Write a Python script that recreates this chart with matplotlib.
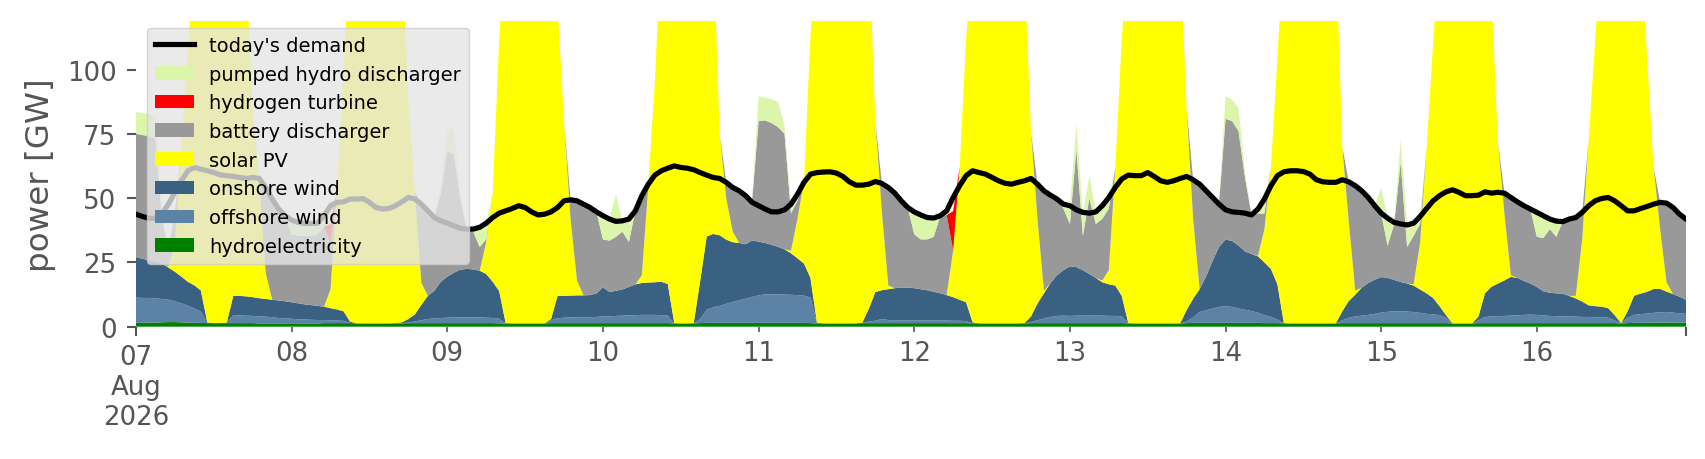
import pandas as pd
import matplotlib
matplotlib.use("Agg")
import matplotlib.pyplot as plt
import matplotlib.dates as mdates
from matplotlib.patches import Patch
from matplotlib.lines import Line2D

# hourly values in GW, 07 Aug 2026 00:00 .. 16 Aug 2026 23:00, one row per day
demand = [
    43.8, 42.9, 42.2, 42.2, 43.8, 47.7, 52.3, 56.8, 60.7, 62.0, 61.3, 60.7, 60.0, 59.1, 58.8, 58.5, 58.1, 57.7, 58.1, 57.7, 54.2, 49.7, 45.8, 43.2,
    41.5, 40.6, 40.2, 40.2, 40.3, 43.2, 47.1, 48.4, 48.6, 49.7, 49.7, 49.9, 48.4, 46.4, 45.8, 46.0, 47.1, 48.6, 50.3, 49.7, 47.7, 45.1, 42.5, 41.2,
    40.3, 39.3, 38.3, 38.0, 38.0, 38.7, 40.3, 42.5, 44.2, 45.1, 46.0, 47.1, 46.4, 44.7, 43.5, 43.8, 44.7, 46.4, 49.0, 49.4, 49.0, 47.7, 46.4, 44.7,
    43.2, 41.9, 41.0, 41.2, 41.9, 45.1, 51.0, 55.5, 59.0, 60.7, 61.7, 62.6, 62.0, 61.7, 61.1, 60.0, 59.0, 58.1, 57.7, 56.2, 54.2, 52.9, 51.0, 48.4,
    47.1, 45.8, 44.7, 44.7, 45.5, 47.7, 51.6, 56.2, 59.4, 60.0, 60.2, 60.3, 59.8, 58.5, 56.4, 55.1, 55.1, 55.5, 56.5, 55.8, 54.2, 52.0, 49.0, 46.4,
    44.7, 43.5, 42.5, 42.3, 43.2, 45.1, 50.3, 54.9, 58.8, 60.7, 60.0, 59.4, 58.1, 56.8, 55.8, 55.5, 56.2, 56.8, 57.7, 55.5, 52.9, 51.2, 49.7, 47.7,
    47.1, 45.5, 44.5, 44.2, 44.7, 47.1, 50.3, 54.2, 57.5, 59.0, 58.8, 58.8, 60.0, 58.5, 56.8, 56.2, 56.8, 57.7, 58.5, 57.2, 55.5, 52.9, 50.3, 47.7,
    45.5, 44.7, 44.5, 44.2, 43.5, 45.8, 49.7, 54.9, 58.8, 60.3, 60.7, 60.7, 60.4, 59.4, 57.2, 56.4, 56.2, 56.2, 57.2, 56.4, 54.9, 52.9, 50.3, 47.1,
    44.2, 42.2, 40.6, 40.0, 39.6, 40.3, 42.9, 46.0, 49.0, 51.0, 52.5, 53.3, 52.3, 51.0, 51.0, 51.2, 52.5, 52.0, 52.3, 52.0, 50.3, 48.6, 47.1, 45.8,
    44.5, 43.2, 41.9, 41.1, 40.9, 41.9, 42.5, 44.5, 47.1, 49.0, 49.9, 50.3, 49.0, 47.1, 45.1, 45.1, 46.0, 46.8, 47.7, 48.4, 48.1, 46.4, 43.8, 41.9,
]

hydro = [
    1.5, 1.5, 1.6, 1.6, 1.7, 1.8, 1.8, 1.7, 1.6, 1.5, 1.5, 1.4, 1.4, 1.4, 1.4, 1.4, 1.4, 1.4, 1.4, 1.3, 1.3, 1.3, 1.3, 1.3,
    1.3, 1.3, 1.3, 1.3, 1.3, 1.4, 1.4, 1.4, 1.4, 1.4, 1.3, 1.3, 1.3, 1.3, 1.3, 1.3, 1.3, 1.3, 1.4, 1.4, 1.4, 1.4, 1.4, 1.4,
    1.4, 1.4, 1.4, 1.4, 1.4, 1.4, 1.4, 1.4, 1.3, 1.3, 1.3, 1.3, 1.3, 1.3, 1.3, 1.3, 1.4, 1.4, 1.4, 1.4, 1.4, 1.4, 1.4, 1.4,
    1.4, 1.4, 1.4, 1.4, 1.4, 1.4, 1.4, 1.4, 1.4, 1.4, 1.4, 1.3, 1.3, 1.3, 1.3, 1.4, 1.5, 1.5, 1.5, 1.5, 1.5, 1.5, 1.5, 1.5,
    1.5, 1.5, 1.5, 1.5, 1.5, 1.5, 1.5, 1.5, 1.4, 1.3, 1.3, 1.3, 1.3, 1.3, 1.3, 1.3, 1.4, 1.4, 1.4, 1.4, 1.4, 1.4, 1.4, 1.4,
    1.4, 1.4, 1.4, 1.4, 1.4, 1.4, 1.4, 1.4, 1.4, 1.3, 1.3, 1.3, 1.3, 1.3, 1.3, 1.3, 1.3, 1.3, 1.4, 1.4, 1.4, 1.4, 1.4, 1.4,
    1.4, 1.4, 1.4, 1.4, 1.4, 1.4, 1.4, 1.4, 1.4, 1.3, 1.3, 1.3, 1.3, 1.3, 1.3, 1.3, 1.3, 1.3, 1.4, 1.5, 1.5, 1.5, 1.5, 1.5,
    1.5, 1.5, 1.5, 1.5, 1.5, 1.5, 1.4, 1.4, 1.4, 1.3, 1.3, 1.3, 1.3, 1.3, 1.3, 1.3, 1.3, 1.3, 1.4, 1.4, 1.4, 1.4, 1.4, 1.4,
    1.4, 1.4, 1.4, 1.4, 1.4, 1.4, 1.4, 1.4, 1.4, 1.4, 1.4, 1.3, 1.3, 1.3, 1.3, 1.4, 1.4, 1.4, 1.4, 1.4, 1.4, 1.4, 1.4, 1.4,
    1.4, 1.4, 1.4, 1.4, 1.4, 1.4, 1.4, 1.4, 1.4, 1.4, 1.4, 1.4, 1.4, 1.3, 1.4, 1.5, 1.5, 1.5, 1.6, 1.6, 1.6, 1.6, 1.6, 1.6,
]

offshore = [
    9.8, 9.7, 9.6, 9.4, 9.1, 8.7, 8.1, 7.4, 6.6, 5.6, 4.4, 0.1, 0.0, 0.0, 0.1, 3.1, 3.0, 2.9, 2.8, 2.7, 2.6, 2.4, 2.1, 1.9,
    1.8, 1.6, 1.5, 1.4, 1.3, 1.2, 1.1, 1.0, 0.9, 0.1, 0.0, 0.0, 0.0, 0.0, 0.0, 0.0, 0.0, 0.1, 0.2, 0.6, 1.1, 1.6, 1.8, 2.0,
    2.1, 2.2, 2.2, 2.2, 2.2, 2.2, 2.1, 2.0, 1.8, 0.0, 0.0, 0.0, 0.0, 0.0, 0.0, 0.0, 1.1, 1.9, 2.1, 2.2, 2.3, 2.3, 2.3, 2.4,
    2.6, 2.6, 2.8, 2.9, 3.0, 3.1, 3.2, 3.2, 3.2, 3.1, 2.9, 0.0, 0.0, 0.0, 0.0, 1.6, 5.1, 6.1, 6.6, 7.4, 8.1, 8.8, 9.4, 10.1,
    10.7, 11.1, 11.1, 11.1, 11.0, 10.9, 10.8, 10.6, 10.0, 0.1, 0.0, 0.0, 0.0, 0.0, 0.0, 0.0, 0.1, 0.6, 0.9, 1.6, 1.2, 1.0, 1.0, 1.0,
    1.0, 1.0, 1.0, 1.0, 1.0, 1.0, 0.9, 0.9, 0.8, 0.0, 0.0, 0.0, 0.0, 0.0, 0.0, 0.0, 0.0, 0.0, 0.4, 1.1, 1.8, 2.4, 2.8, 2.9,
    2.8, 2.9, 2.9, 3.0, 2.9, 2.9, 2.8, 2.8, 2.6, 0.0, 0.0, 0.0, 0.0, 0.0, 0.0, 0.0, 0.0, 0.0, 0.6, 2.1, 4.2, 4.9, 5.6, 6.2,
    6.5, 6.2, 5.6, 5.1, 4.6, 3.9, 3.1, 2.4, 1.4, 0.0, 0.0, 0.0, 0.0, 0.0, 0.0, 0.0, 0.0, 0.0, 1.1, 2.1, 2.6, 2.9, 3.2, 3.6,
    4.1, 4.4, 4.6, 4.6, 4.5, 4.3, 4.0, 3.6, 3.4, 3.1, 2.1, 0.0, 0.0, 0.0, 0.0, 1.1, 2.4, 2.6, 2.7, 2.8, 2.9, 3.0, 3.2, 3.3,
    3.2, 3.0, 2.8, 2.7, 2.6, 2.6, 2.5, 2.4, 2.4, 2.3, 2.2, 2.1, 1.1, 0.0, 2.1, 3.1, 3.4, 3.6, 3.8, 4.0, 4.1, 3.9, 3.6, 3.4,
]

onshore = [
    15.8, 15.2, 14.7, 14.2, 13.9, 12.5, 11.5, 10.4, 9.3, 9.0, 8.2, 0.2, 0.0, 0.0, 0.1, 7.5, 7.6, 7.5, 7.3, 7.1, 6.9, 6.8, 6.8, 6.7,
    6.4, 6.2, 5.9, 5.7, 5.5, 5.2, 4.7, 4.3, 3.7, 0.5, 0.0, 0.0, 0.0, 0.0, 0.0, 0.0, 0.1, 0.3, 1.4, 2.8, 6.0, 9.0, 10.8, 14.1,
    16.0, 17.4, 18.6, 18.9, 18.7, 18.2, 17.0, 14.1, 10.8, 0.1, 0.0, 0.0, 0.0, 0.0, 0.0, 0.0, 0.5, 8.7, 8.5, 8.5, 8.5, 8.5, 8.6, 9.2,
    11.3, 9.5, 9.8, 10.2, 11.1, 12.0, 12.4, 12.6, 12.7, 13.0, 12.3, 0.1, 0.0, 0.0, 0.1, 15.0, 28.5, 28.5, 27.5, 25.0, 23.3, 22.3, 21.2, 22.0,
    20.9, 20.0, 19.3, 18.5, 17.6, 16.2, 14.3, 12.5, 7.6, 0.2, 0.0, 0.0, 0.0, 0.0, 0.0, 0.0, 0.1, 5.0, 11.2, 11.2, 12.0, 12.6, 12.9, 12.8,
    12.6, 12.2, 11.8, 11.2, 10.6, 9.9, 9.2, 8.2, 7.3, 0.4, 0.0, 0.0, 0.0, 0.0, 0.0, 0.0, 0.0, 0.1, 2.2, 6.5, 9.8, 13.2, 15.8, 17.7,
    19.3, 18.9, 17.7, 16.1, 14.7, 13.0, 12.3, 11.8, 8.0, 0.1, 0.0, 0.0, 0.0, 0.0, 0.0, 0.0, 0.0, 0.0, 4.5, 7.3, 8.9, 13.2, 18.5, 23.4,
    25.9, 25.7, 24.5, 22.7, 22.2, 22.0, 20.5, 18.7, 13.7, 0.1, 0.0, 0.0, 0.0, 0.0, 0.0, 0.0, 0.0, 0.0, 3.5, 6.5, 8.5, 10.9, 12.4, 13.3,
    13.8, 13.2, 12.2, 11.4, 10.9, 10.3, 9.1, 8.0, 6.4, 3.5, 1.0, 0.0, 0.0, 0.0, 0.0, 1.5, 9.2, 11.5, 12.7, 13.8, 15.1, 14.6, 13.2, 12.1,
    10.9, 9.4, 9.0, 8.9, 8.8, 8.0, 7.1, 6.0, 4.5, 4.3, 4.2, 3.7, 2.0, 0.1, 2.5, 7.5, 8.0, 8.5, 9.3, 9.1, 8.0, 7.2, 6.5, 5.5,
]

solar = [
    0, 0, 0, 0, 0, 0.4, 10.7, 50.3, 90.7, 129.0, 151.0, 168.3, 170.6, 166.6, 158.4, 143.0, 136.0, 128.2, 72.5, 44.8, 10.1, 0, 0, 0,
    0, 0, 0, 0, 0, 0, 7.4, 46.9, 94.0, 145.0, 163.6, 173.6, 178.6, 178.6, 173.6, 166.6, 158.5, 148.2, 84.8, 48.0, 8.5, 0, 0, 0,
    0, 0, 0, 0, 0, 0, 12.5, 34.5, 98.0, 148.5, 163.6, 170.6, 173.6, 170.6, 163.6, 153.6, 137.0, 113.0, 68.0, 29.9, 5.8, 0, 0, 0,
    0, 0, 0, 0, 0, 0, 3.0, 37.8, 77.7, 132.5, 151.4, 176.5, 180.6, 178.6, 173.5, 150.0, 125.0, 114.0, 39.5, 16.2, 4.2, 0, 0, 0,
    0, 0, 0, 0, 0, 1.0, 15.5, 31.9, 94.4, 148.3, 166.6, 176.6, 180.6, 178.6, 173.6, 166.6, 158.4, 143.0, 66.5, 30.8, 1.4, 0, 0, 0,
    0, 0, 0, 0, 0, 0, 18.1, 51.5, 102.5, 143.2, 160.6, 170.6, 174.6, 173.6, 168.6, 160.6, 150.6, 138.5, 72.0, 33.0, 1.0, 0, 0, 0,
    0, 0, 0, 0, 0, 0.7, 5.5, 46.0, 100.0, 146.5, 163.6, 173.6, 176.6, 176.6, 170.6, 163.6, 155.6, 143.6, 78.5, 31.2, 0, 0, 0, 0,
    0, 0, 0, 0, 0, 0.2, 13.0, 39.5, 88.5, 148.5, 166.6, 176.6, 180.6, 178.6, 173.6, 166.6, 158.6, 148.6, 64.0, 31.0, 1.5, 0, 0, 0,
    0, 0, 0, 0, 0, 0.5, 18.1, 56.6, 98.8, 140.0, 160.5, 173.6, 176.6, 174.6, 168.6, 156.0, 135.0, 114.5, 55.2, 26.0, 0.6, 0, 0, 0,
    0, 0, 0, 0, 0, 0, 1.0, 24.2, 64.7, 104.0, 140.2, 157.8, 167.5, 173.5, 164.0, 148.0, 132.2, 91.5, 47.5, 23.5, 3.5, 0, 0, 0,
]

battery = [
    48.0, 48.2, 48.3, 48.0, 17.6, 7.0, 12.3, 0, 0, 0, 0, 0, 0, 0, 0, 0, 0, 0, 0, 1.7, 33.2, 39.1, 35.5, 33.2,
    26.4, 26.3, 26.6, 27.0, 27.8, 31.2, 18.2, 0, 0, 0, 0, 0, 0, 0, 0, 0, 0, 0, 0, 0, 30.7, 33.1, 28.5, 34.5,
    49.0, 46.0, 27.8, 15.5, 14.7, 9.2, 1.0, 0, 0, 0, 0, 0, 0, 0, 0, 0, 0, 0, 0, 7.4, 31.0, 35.5, 34.1, 31.7,
    18.7, 20.0, 21.0, 22.5, 17.5, 28.6, 30.0, 0.5, 0, 0, 0, 0, 0, 0, 0, 0, 0, 0, 0, 6.2, 17.2, 20.4, 19.0, 15.5,
    47.0, 47.7, 47.4, 46.6, 45.0, 14.5, 7.0, 0, 0, 0, 0, 0, 0, 0, 0, 0, 0, 0, 0, 10.8, 38.2, 37.0, 33.7, 31.2,
    21.0, 19.4, 19.8, 21.4, 30.0, 31.2, 0, 0, 0, 0, 0, 0, 0, 0, 0, 0, 0, 0, 0, 13.5, 38.9, 34.2, 29.7, 24.0,
    16.5, 45.8, 13.4, 29.5, 21.0, 24.0, 24.0, 0, 0, 0, 0, 0, 0, 0, 0, 0, 0, 0, 0, 15.2, 41.0, 33.4, 24.8, 17.0,
    47.0, 46.7, 44.5, 28.8, 15.3, 16.5, 6.0, 0, 0, 0, 0, 0, 0, 0, 0, 0, 0, 0, 0, 15.4, 40.9, 37.7, 33.3, 28.8,
    24.7, 12.5, 21.8, 46.6, 14.2, 18.9, 7.4, 0, 0, 0, 0, 0, 0, 0, 0, 0, 0, 0, 0, 8.0, 30.3, 29.6, 29.3, 29.0,
    19.5, 20.7, 24.8, 22.0, 28.1, 29.9, 30.5, 10.5, 0, 0, 0, 0, 0, 0, 0, 0, 0, 0, 0, 10.4, 31.1, 33.9, 32.3, 31.6,
]

hydrogen = [
    0, 0, 0, 0, 0, 0, 0, 0, 0, 0, 0, 0, 0, 0, 0, 0, 0, 0, 0, 0, 0, 0, 0, 0,
    0, 0, 0, 0, 0, 0, 7.2, 0, 0, 0, 0, 0, 0, 0, 0, 0, 0, 0, 0, 0, 0, 0, 0, 0,
    0, 0, 0, 0, 0, 0, 0, 0, 0, 0, 0, 0, 0, 0, 0, 0, 0, 0, 0, 0, 0, 0, 0, 0,
    0, 0, 0, 0, 0, 0, 0, 0, 0, 0, 0, 0, 0, 0, 0, 0, 0, 0, 0, 0, 0, 0, 0, 0,
    0, 0, 0, 0, 0, 0, 0, 0, 0, 0, 0, 0, 0, 0, 0, 0, 0, 0, 0, 0, 0, 0, 0, 0,
    0, 0, 0, 0, 0, 0, 15.4, 0, 0, 0, 0, 0, 0, 0, 0, 0, 0, 0, 0, 0, 0, 0, 0, 0,
    0, 0, 0, 0, 0, 0, 0, 0, 0, 0, 0, 0, 0, 0, 0, 0, 0, 0, 0, 0, 0, 0, 0, 0,
    0, 0, 0, 0, 0, 0, 0, 0, 0, 0, 0, 0, 0, 0, 0, 0, 0, 0, 0, 0, 0, 0, 0, 0,
    0, 0, 0, 0, 0, 0, 0, 0, 0, 0, 0, 0, 0, 0, 0, 0, 0, 0, 0, 0, 0, 0, 0, 0,
    0, 0, 0, 0, 0, 0, 0, 0, 0, 0, 0, 0, 0, 0, 0, 0, 0, 0, 0, 0, 0, 0, 0, 0,
]

pumped_hydro = [
    8.5, 8.5, 8.5, 8.5, 0, 0, 0, 0, 0, 0, 0, 0, 0, 0, 0, 0, 0, 0, 0, 0, 0, 0, 0, 0,
    5.5, 5.1, 4.8, 4.7, 4.3, 4.0, 0, 0, 0, 0, 0, 0, 0, 0, 0, 0, 0, 0, 0, 0, 0, 0, 0, 3.0,
    7.5, 11.0, 2.0, 0, 1.0, 7.7, 6.3, 0, 0, 0, 0, 0, 0, 0, 0, 0, 0, 0, 0, 0, 0, 0, 0, 0,
    9.2, 8.4, 16.5, 4.2, 8.9, 0, 1.0, 0, 0, 0, 0, 0, 0, 0, 0, 0, 0, 0, 0, 0, 0, 0, 0, 0,
    9.6, 8.9, 9.3, 9.7, 3.2, 3.7, 2.6, 0, 0, 0, 0, 0, 0, 0, 0, 0, 0, 0, 0, 0, 0, 0, 0, 0,
    8.7, 9.5, 8.5, 7.3, 0.2, 1.5, 0, 0, 0, 0, 0, 0, 0, 0, 0, 0, 0, 0, 0, 0, 0, 0, 0, 2.6,
    7.1, 10.0, 8.6, 8.8, 4.7, 5.1, 4.3, 0, 0, 0, 0, 0, 0, 0, 0, 0, 0, 0, 0, 0, 0, 0, 0, 0,
    8.8, 8.3, 9.0, 2.0, 0, 1.8, 5.7, 0, 0, 0, 0, 0, 0, 0, 0, 0, 0, 0, 0, 0, 0, 0, 0, 0,
    10.2, 10.7, 0.6, 9.0, 8.6, 4.9, 2.9, 0, 0, 0, 0, 0, 0, 0, 0, 0, 0, 0, 0, 0, 0, 0, 0, 0,
    9.5, 8.7, 3.9, 6.1, 0, 0, 0, 0, 0, 0, 0, 0, 0, 0, 0, 0, 0, 0, 0, 0, 0, 0, 0, 0,
]

# stacking order bottom -> top
techs = ["hydroelectricity", "offshore wind", "onshore wind", "solar PV",
         "battery discharger", "hydrogen turbine", "pumped hydro discharger"]
colors = {
    "hydroelectricity": "#008000",
    "offshore wind": "#5c82a5",
    "onshore wind": "#3b6182",
    "solar PV": "#ffff00",
    "battery discharger": "#999999",
    "hydrogen turbine": "#ff0000",
    "pumped hydro discharger": "#dbf5aa",
}

idx = pd.date_range("2026-08-07 00:00", periods=len(demand), freq="h")
df = pd.DataFrame({
    "hydroelectricity": hydro,
    "offshore wind": offshore,
    "onshore wind": onshore,
    "solar PV": solar,
    "battery discharger": battery,
    "hydrogen turbine": hydrogen,
    "pumped hydro discharger": pumped_hydro,
    "demand": demand,
}, index=idx)

GRAY = "#555555"
W, H = 1706, 460

fig = plt.figure(figsize=(W / 100, H / 100), dpi=100)
ax = fig.add_axes([136 / W, (H - 327.7) / H, 1550 / W, 305.7 / H])

x = mdates.date2num(idx.to_pydatetime())
ax.stackplot(x, *[df[t].values for t in techs],
             colors=[colors[t] for t in techs], linewidth=0)
ax.plot(x, df["demand"].values, color="black", lw=3.75)

ax.set_xlim(x[0], x[-1])
ax.set_ylim(0, 119)
for s in ax.spines.values():
    s.set_visible(False)
ax.set_facecolor("white")

ax.set_yticks([0, 25, 50, 75, 100])
ax.tick_params(axis="y", colors=GRAY, labelsize=18.7, length=6.5, width=1.5, pad=7.5)

# pandas-like date ticks: major at the ends, minor at every midnight
ax.set_xticks([x[0], x[-1]], labels=["07\nAug\n2026", ""])
ax.set_xticks(x[24::24], labels=[d.strftime("%d") for d in idx[24::24]], minor=True)
ax.tick_params(axis="x", which="major", colors=GRAY, labelsize=18.7, length=6.5, width=1.5, pad=6)
ax.tick_params(axis="x", which="minor", colors=GRAY, labelsize=18.7, length=3.7, width=1.2, pad=6)

ax.set_ylabel("power [GW]", color=GRAY, fontsize=23.4, labelpad=8)

handles = [Line2D([], [], color="black", lw=3.75, label="today's demand")]
handles += [Patch(facecolor=colors[t], label=t) for t in reversed(techs)]
ax.legend(handles=handles, loc="upper left", bbox_to_anchor=(0.007, 0.977),
          borderaxespad=0, fontsize=14, facecolor="#E5E5E5", framealpha=0.8,
          edgecolor="0.8")

fig.savefig("out.png", dpi=100, facecolor="white")
